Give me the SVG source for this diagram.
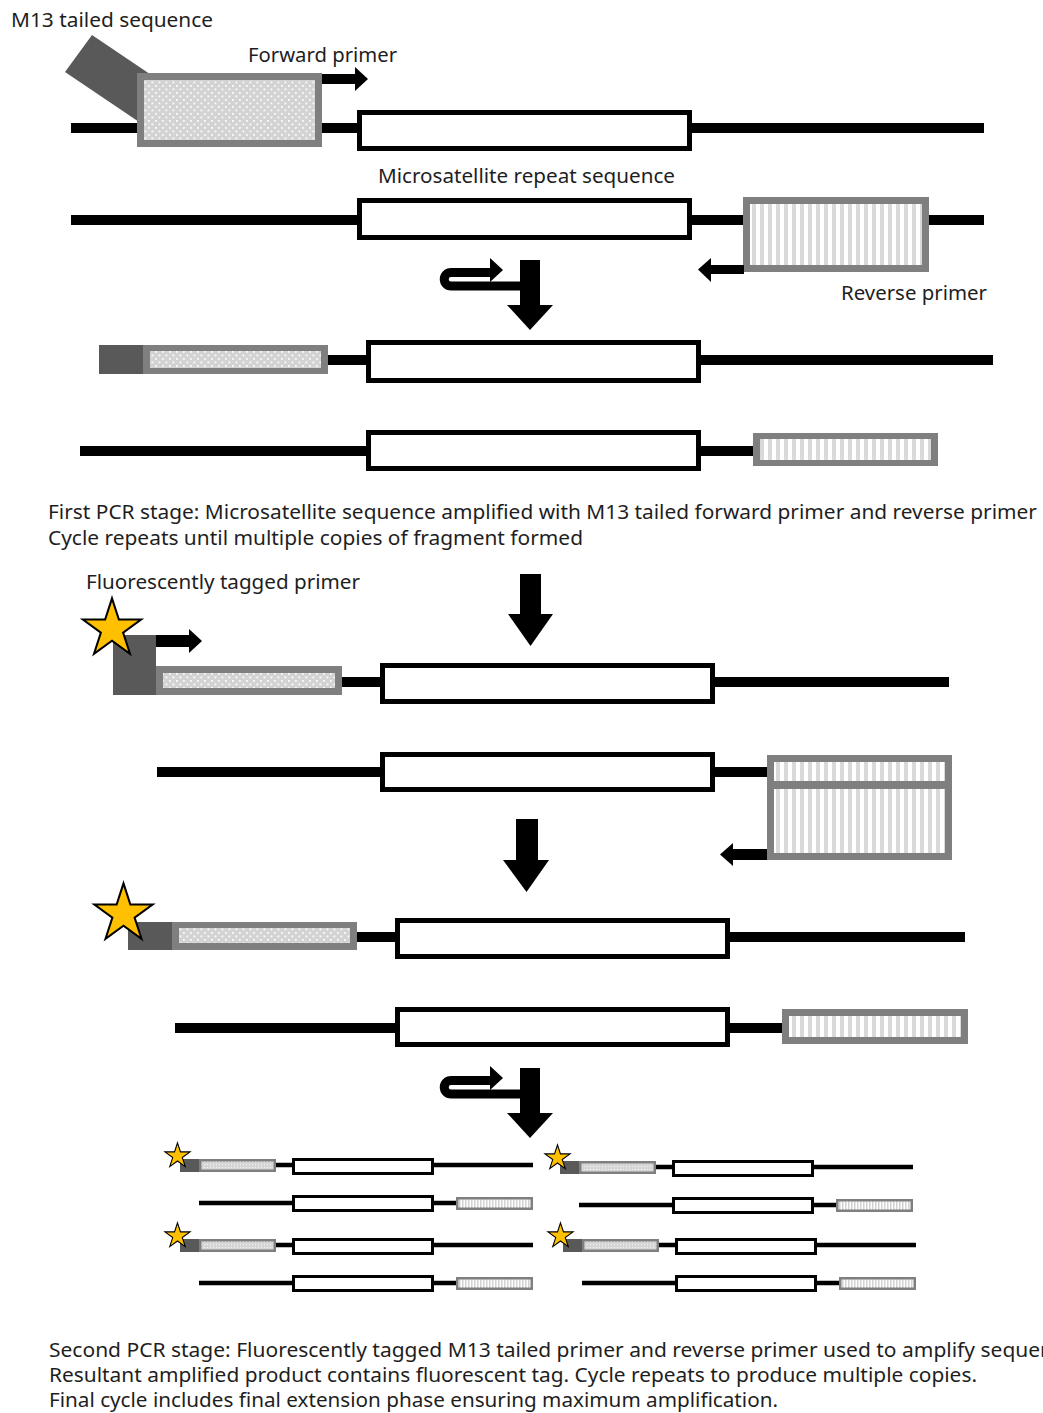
<svg xmlns="http://www.w3.org/2000/svg" width="1043" height="1413" viewBox="0 0 1043 1413">
  <defs>
    <!-- primer fills -->
    <pattern id="dots" width="7" height="7" patternUnits="userSpaceOnUse">
      <rect width="7" height="7" fill="#d3d3d3"/>
      <rect x="1" y="1" width="1.8" height="1.8" fill="#fbfbfb"/>
      <rect x="4.5" y="4.5" width="1.8" height="1.8" fill="#fbfbfb"/>
    </pattern>
    <pattern id="dots-fine" width="3" height="3" patternUnits="userSpaceOnUse">
      <rect width="3" height="3" fill="#d6d6d6"/>
      <rect width="1" height="1" fill="#f4f4f4"/>
    </pattern>
    <pattern id="stripes" width="8" height="10" patternUnits="userSpaceOnUse">
      <rect width="8" height="10" fill="#ffffff"/>
      <rect width="4" height="10" fill="#d9d9d9"/>
    </pattern>
    <pattern id="stripes-fine" width="3" height="10" patternUnits="userSpaceOnUse">
      <rect width="3" height="10" fill="#ffffff"/>
      <rect width="1.5" height="10" fill="#d2d2d2"/>
    </pattern>
    <!-- five-point star, outer radius 30 -->
    <path id="star" d="M0,-30 L6.74,-9.27 L28.53,-9.27 L10.9,3.54 L17.63,24.27 L0,11.46 L-17.63,24.27 L-10.9,3.54 L-28.53,-9.27 L-6.74,-9.27 Z"/>
    <!-- small amplified product: tagged strand over reverse strand -->
    <g id="pair">
      <line class="dna-s" x1="276" y1="1165" x2="533" y2="1165"/>
      <rect class="tail" x="180" y="1159" width="19" height="13"/>
      <rect class="frame" x="199" y="1159" width="77" height="13"/>
      <rect fill="url(#dots-fine)" x="201.5" y="1161.5" width="72" height="8"/>
      <rect class="rep-s" x="293.5" y="1159.5" width="139" height="14"/>
      <use href="#star" class="star-s" transform="translate(177.5,1156) scale(0.44)"/>
      <line class="dna-s" x1="199" y1="1203" x2="456" y2="1203"/>
      <rect class="rep-s" x="293.5" y="1196.5" width="139" height="14"/>
      <rect class="frame" x="456" y="1197" width="77" height="13"/>
      <rect fill="url(#stripes-fine)" x="458.5" y="1199.5" width="72" height="8"/>
    </g>
  </defs>
  <style>
    .dna { stroke: #000; stroke-width: 10; }
    .dna-s { stroke: #000; stroke-width: 4.5; }
    .rep { fill: #fff; stroke: #000; stroke-width: 5; }
    .rep-s { fill: #fff; stroke: #000; stroke-width: 3; }
    .frame { fill: #7f7f7f; }
    .tail { fill: #595959; }
    .dot { fill: url(#dots); }
    .stripe { fill: url(#stripes); }
    .arrow { fill: #000; }
    .star { fill: #ffc000; stroke: #000; stroke-width: 2; }
    .star-s { fill: #ffc000; stroke: #000; stroke-width: 2.5; }
    text { font-family: "Noto Sans", "Liberation Sans", sans-serif; font-size: 20px; fill: #1e1e1e; }
    .small { font-size: 19px; }
  </style>

  <rect width="1043" height="1413" fill="#fff"/>

  <!-- template strand with M13 tailed forward primer -->
  <g id="template-forward">
    <line class="dna" x1="71" y1="128" x2="984" y2="128"/>
    <polygon class="tail" points="92,35 65,72 148,128 175,91"/>
    <rect class="frame" x="137" y="73" width="185" height="74"/>
    <rect class="dot" x="144" y="80" width="171" height="60"/>
    <rect class="rep" x="359.5" y="112.5" width="330" height="36"/>
    <rect class="arrow" x="322" y="74" width="34" height="10"/>
    <polygon class="arrow" points="355,67 368,79 355,91"/>
  </g>

  <!-- template strand with reverse primer -->
  <g id="template-reverse">
    <line class="dna" x1="71" y1="220" x2="984" y2="220"/>
    <rect class="rep" x="359.5" y="200.5" width="330" height="37"/>
    <rect class="frame" x="743" y="197" width="186" height="75"/>
    <rect class="stripe" x="750" y="204" width="172" height="61"/>
    <rect class="arrow" x="710" y="265" width="34" height="9"/>
    <polygon class="arrow" points="711,258 698,269.5 711,282"/>
  </g>

  <g id="labels-top">
    <text x="11" y="27" textLength="202" lengthAdjust="spacingAndGlyphs">M13 tailed sequence</text>
    <text x="248" y="62" textLength="149" lengthAdjust="spacingAndGlyphs">Forward primer</text>
    <text x="378" y="183" textLength="297" lengthAdjust="spacingAndGlyphs">Microsatellite repeat sequence</text>
    <text x="841" y="300" textLength="146" lengthAdjust="spacingAndGlyphs">Reverse primer</text>
  </g>

  <!-- first-stage products -->
  <g id="product-forward">
    <line class="dna" x1="328" y1="360" x2="993" y2="360"/>
    <rect class="tail" x="99" y="345" width="44" height="29"/>
    <rect class="frame" x="143" y="345" width="185" height="29"/>
    <rect class="dot" x="150" y="351" width="171" height="17"/>
    <rect class="rep" x="368.5" y="342.5" width="330" height="38"/>
  </g>

  <g id="product-reverse">
    <line class="dna" x1="80" y1="451" x2="753" y2="451"/>
    <rect class="rep" x="368.5" y="432.5" width="330" height="36"/>
    <rect class="frame" x="753" y="433" width="185" height="33"/>
    <rect class="stripe" x="760" y="439" width="171" height="21"/>
  </g>

  <g id="caption-first">
    <text x="48" y="519" textLength="989" lengthAdjust="spacingAndGlyphs">First PCR stage: Microsatellite sequence amplified with M13 tailed forward primer and reverse primer</text>
    <text x="48" y="545" textLength="535" lengthAdjust="spacingAndGlyphs">Cycle repeats until multiple copies of fragment formed</text>
  </g>

  <text id="label-tagged" x="86" y="589" textLength="274" lengthAdjust="spacingAndGlyphs">Fluorescently tagged primer</text>

  <!-- second stage: fluorescently tagged primer binding -->
  <g id="tagged-forward">
    <line class="dna" x1="342" y1="682" x2="949" y2="682"/>
    <rect class="tail" x="113" y="635" width="43" height="60"/>
    <rect class="frame" x="156" y="666" width="186" height="29"/>
    <rect class="dot" x="163" y="673" width="172" height="15"/>
    <rect class="rep" x="382.5" y="665.5" width="330" height="36"/>
    <rect class="arrow" x="156" y="635" width="34" height="12"/>
    <polygon class="arrow" points="189,629 202,641 189,653"/>
    <use href="#star" class="star" transform="translate(112,629) scale(1.02)"/>
  </g>

  <g id="tagged-reverse">
    <line class="dna" x1="157" y1="772" x2="767" y2="772"/>
    <rect class="rep" x="382.5" y="754.5" width="330" height="35"/>
    <rect class="frame" x="767" y="755" width="185" height="105"/>
    <rect class="stripe" x="774" y="762" width="171" height="19"/>
    <rect class="stripe" x="774" y="789" width="171" height="64"/>
    <rect class="arrow" x="732" y="849" width="35" height="11"/>
    <polygon class="arrow" points="733,843 720,854.5 733,866"/>
  </g>

  <!-- second-stage products -->
  <g id="labelled-forward">
    <line class="dna" x1="357" y1="937" x2="965" y2="937"/>
    <rect class="tail" x="128" y="922" width="44" height="28"/>
    <rect class="frame" x="172" y="922" width="185" height="28"/>
    <rect class="dot" x="179" y="928" width="171" height="15"/>
    <rect class="rep" x="397.5" y="920.5" width="330" height="36"/>
    <use href="#star" class="star" transform="translate(123.5,914) scale(1.02)"/>
  </g>

  <g id="labelled-reverse">
    <line class="dna" x1="175" y1="1028" x2="782" y2="1028"/>
    <rect class="rep" x="397.5" y="1009.5" width="330" height="35"/>
    <rect class="frame" x="782" y="1009" width="186" height="35"/>
    <rect class="stripe" x="789" y="1016" width="172" height="21"/>
  </g>

  <!-- multiple tagged copies -->
  <g id="copy-1"><use href="#pair"/></g>
  <g id="copy-2"><use href="#pair" transform="translate(0,80)"/></g>
  <g id="copy-3"><use href="#pair" transform="translate(380,2)"/></g>
  <g id="copy-4"><use href="#pair" transform="translate(383,80)"/></g>

  <g id="caption-second">
    <text class="small" x="49" y="1357" textLength="1026" lengthAdjust="spacingAndGlyphs">Second PCR stage: Fluorescently tagged M13 tailed primer and reverse primer used to amplify sequence</text>
    <text class="small" x="49" y="1382" textLength="928" lengthAdjust="spacingAndGlyphs">Resultant amplified product contains fluorescent tag. Cycle repeats to produce multiple copies.</text>
    <text class="small" x="49" y="1407" textLength="729" lengthAdjust="spacingAndGlyphs">Final cycle includes final extension phase ensuring maximum amplification.</text>
  </g>

  <!-- process arrows between stages -->
  <g id="connectors">
    <g id="cycle-1">
      <path d="M492 272.5 H451 A6.75 6.75 0 0 0 451 286 H525" fill="none" stroke="#000" stroke-width="9"/>
      <polygon class="arrow" points="490,258 503,270 490,282"/>
      <rect class="arrow" x="520" y="260" width="20" height="46"/>
      <polygon class="arrow" points="507,305 553,305 530,330"/>
    </g>
    <g id="step-1">
      <rect class="arrow" x="520" y="574" width="21" height="41"/>
      <polygon class="arrow" points="508,614 553,614 530.5,646"/>
    </g>
    <g id="step-2">
      <rect class="arrow" x="516" y="819" width="22" height="42"/>
      <polygon class="arrow" points="503,860 549,860 526.5,892"/>
    </g>
    <g id="cycle-2" transform="translate(0,808)">
      <path d="M492 272.5 H451 A6.75 6.75 0 0 0 451 286 H525" fill="none" stroke="#000" stroke-width="9"/>
      <polygon class="arrow" points="490,258 503,270 490,282"/>
      <rect class="arrow" x="520" y="260" width="20" height="46"/>
      <polygon class="arrow" points="507,305 553,305 530,330"/>
    </g>
  </g>
</svg>
